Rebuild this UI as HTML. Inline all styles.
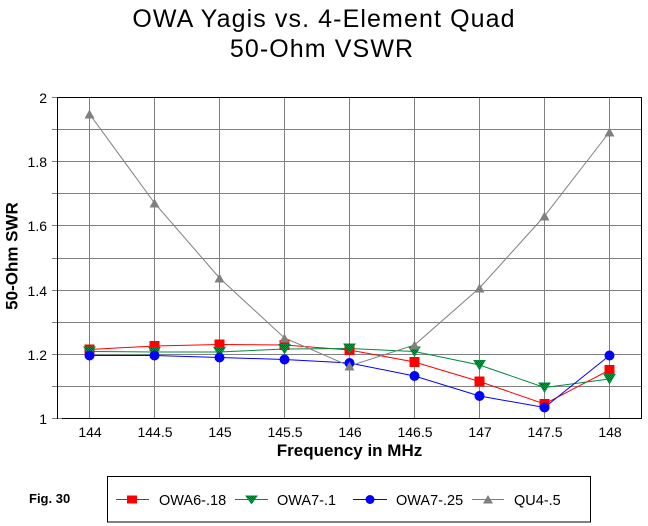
<!DOCTYPE html>
<html><head><meta charset="utf-8"><style>
html,body{margin:0;padding:0;background:#fff;}
svg{display:block;}
text{font-family:"Liberation Sans",Arial,sans-serif;fill:#000;}
</style></head><body>
<svg width="648" height="526" viewBox="0 0 648 526" xmlns="http://www.w3.org/2000/svg">
<defs>
<pattern id="gp" patternUnits="userSpaceOnUse" width="2" height="2">
<rect width="2" height="2" fill="#004d1f"/>
<rect width="1" height="1" fill="#00a048"/>
<rect x="1" y="1" width="1" height="1" fill="#00a048"/>
</pattern>
</defs>
<rect width="648" height="526" fill="#fff"/>
<!-- Title -->
<text x="324" y="27" font-size="25" letter-spacing="1.1" text-anchor="middle">OWA Yagis vs. 4-Element Quad</text>
<text x="322" y="57" font-size="25" letter-spacing="1.1" text-anchor="middle">50-Ohm VSWR</text>
<!-- grid horizontal -->
<g stroke="#808080" stroke-width="1">
<line x1="52" y1="97.5" x2="641" y2="97.5"/>
<line x1="52" y1="129.5" x2="641" y2="129.5"/>
<line x1="52" y1="161.5" x2="641" y2="161.5"/>
<line x1="52" y1="193.5" x2="641" y2="193.5"/>
<line x1="52" y1="225.5" x2="641" y2="225.5"/>
<line x1="52" y1="258.5" x2="641" y2="258.5"/>
<line x1="52" y1="290.5" x2="641" y2="290.5"/>
<line x1="52" y1="322.5" x2="641" y2="322.5"/>
<line x1="52" y1="354.5" x2="641" y2="354.5"/>
<line x1="52" y1="386.5" x2="641" y2="386.5"/>
<line x1="52" y1="418.5" x2="641" y2="418.5"/>
<!-- vertical -->
<line x1="89.5" y1="97" x2="89.5" y2="418"/>
<line x1="154.5" y1="97" x2="154.5" y2="418"/>
<line x1="219.5" y1="97" x2="219.5" y2="418"/>
<line x1="284.5" y1="97" x2="284.5" y2="418"/>
<line x1="349.5" y1="97" x2="349.5" y2="418"/>
<line x1="414.5" y1="97" x2="414.5" y2="418"/>
<line x1="479.5" y1="97" x2="479.5" y2="418"/>
<line x1="544.5" y1="97" x2="544.5" y2="418"/>
<line x1="609.5" y1="97" x2="609.5" y2="418"/>
</g>
<!-- plot box -->
<g stroke="#000" stroke-width="1" fill="none">
<line x1="57.5" y1="97" x2="57.5" y2="419"/>
<line x1="62" y1="418.5" x2="642" y2="418.5"/>
<line x1="57" y1="97.5" x2="642" y2="97.5"/>
<line x1="641.5" y1="97" x2="641.5" y2="419"/>
</g>
<!-- y tick labels -->
<g font-size="14" text-anchor="end">
<text x="47" y="103">2</text>
<text x="47" y="167">1.8</text>
<text x="47" y="231">1.6</text>
<text x="47" y="296">1.4</text>
<text x="47" y="360">1.2</text>
<text x="47" y="424">1</text>
</g>
<!-- x tick labels -->
<g font-size="14" text-anchor="middle">
<text x="90" y="437">144</text>
<text x="155" y="437">144.5</text>
<text x="220" y="437">145</text>
<text x="285" y="437">145.5</text>
<text x="350" y="437">146</text>
<text x="415" y="437">146.5</text>
<text x="480" y="437">147</text>
<text x="545" y="437">147.5</text>
<text x="610" y="437">148</text>
</g>
<text x="349.5" y="456" font-size="17" font-weight="bold" text-anchor="middle">Frequency in MHz</text>
<text x="17.5" y="256" font-size="17" font-weight="bold" text-anchor="middle" transform="rotate(-90 17.5 256)">50-Ohm SWR</text>
<!-- series lines -->
<g fill="none" stroke-width="1">
<polyline stroke="#ff0000" points="89.5,349.5 154.5,346 219.5,344.5 284.5,345 349.5,350 414.5,362 479.5,381.5 544.5,404 609.5,370"/>
<polyline stroke="#008a3e" points="89.5,351.5 154.5,352 219.5,352 284.5,349 349.5,348.5 414.5,351.5 479.5,365 544.5,387.5 609.5,379"/>
<polyline stroke="#0000ff" points="89.5,355.5 154.5,355.5 219.5,357.5 284.5,359.5 349.5,363 414.5,376 479.5,396 544.5,407.5 609.5,355.5"/>
<polyline stroke="#808080" points="89.5,114 154.5,203 219.5,278 284.5,338 349.5,366 414.5,345 479.5,288 544.5,216 609.5,132"/>
</g>
<!-- red squares -->
<g fill="#ff0000">
<rect x="84.5" y="344.5" width="10" height="10"/>
<rect x="149.5" y="341" width="10" height="10"/>
<rect x="214.5" y="339.5" width="10" height="10"/>
<rect x="279.5" y="340" width="10" height="10"/>
<rect x="344.5" y="345" width="10" height="10"/>
<rect x="409.5" y="357" width="10" height="10"/>
<rect x="474.5" y="376.5" width="10" height="10"/>
<rect x="539.5" y="399" width="10" height="10"/>
<rect x="604.5" y="365" width="10" height="10"/>
</g>
<!-- green down triangles -->
<g fill="url(#gp)" stroke="#008a3e" stroke-width="1">
<polygon points="84,347 95,347 89.5,356"/>
<polygon points="149,347.5 160,347.5 154.5,356.5"/>
<polygon points="214,347.5 225,347.5 219.5,356.5"/>
<polygon points="279,344.5 290,344.5 284.5,353.5"/>
<polygon points="344,344 355,344 349.5,353"/>
<polygon points="409,347 420,347 414.5,356"/>
<polygon points="474,360.5 485,360.5 479.5,369.5"/>
<polygon points="539,383 550,383 544.5,392"/>
<polygon points="604,374.5 615,374.5 609.5,383.5"/>
</g>
<!-- blue circles -->
<g fill="#0000ff">
<circle cx="89.5" cy="355.5" r="5"/>
<circle cx="154.5" cy="355.5" r="5"/>
<circle cx="219.5" cy="357.5" r="5"/>
<circle cx="284.5" cy="359.5" r="5"/>
<circle cx="349.5" cy="363" r="5"/>
<circle cx="414.5" cy="376" r="5"/>
<circle cx="479.5" cy="396" r="5"/>
<circle cx="544.5" cy="407.5" r="5"/>
<circle cx="609.5" cy="355.5" r="5"/>
</g>
<!-- gray up triangles -->
<g fill="#808080">
<polygon points="84.5,118.5 94.5,118.5 89.5,109.5"/>
<polygon points="149.5,207.5 159.5,207.5 154.5,198.5"/>
<polygon points="214.5,282.5 224.5,282.5 219.5,273.5"/>
<polygon points="279.5,342.5 289.5,342.5 284.5,333.5"/>
<polygon points="344.5,370.5 354.5,370.5 349.5,361.5"/>
<polygon points="409.5,349.5 419.5,349.5 414.5,340.5"/>
<polygon points="474.5,292.5 484.5,292.5 479.5,283.5"/>
<polygon points="539.5,220.5 549.5,220.5 544.5,211.5"/>
<polygon points="604.5,136.5 614.5,136.5 609.5,127.5"/>
</g>
<!-- Fig label -->
<text x="29" y="503" font-size="13" font-weight="bold">Fig. 30</text>
<!-- legend -->
<rect x="107.5" y="476.5" width="483" height="45.5" fill="none" stroke="#000" stroke-width="1"/>
<g stroke-width="1">
<line x1="116" y1="499.5" x2="149" y2="499.5" stroke="#ff0000"/>
<rect x="127" y="495.5" width="10" height="8" fill="#ff0000"/>
<line x1="235" y1="499.5" x2="268" y2="499.5" stroke="#008a3e"/>
<polygon points="246,496 257,496 251.5,503.5" fill="url(#gp)" stroke="#008a3e"/>
<line x1="353" y1="499.5" x2="387" y2="499.5" stroke="#0000ff"/>
<circle cx="370" cy="499.5" r="4.5" fill="#0000ff"/>
<line x1="472" y1="499.5" x2="504" y2="499.5" stroke="#808080"/>
<polygon points="483,503.5 493,503.5 488,495" fill="#808080"/>
</g>
<g font-size="14.5">
<text x="159" y="505">OWA6-.18</text>
<text x="277" y="505">OWA7-.1</text>
<text x="396" y="505">OWA7-.25</text>
<text x="514" y="505">QU4-.5</text>
</g>
</svg>
</body></html>
